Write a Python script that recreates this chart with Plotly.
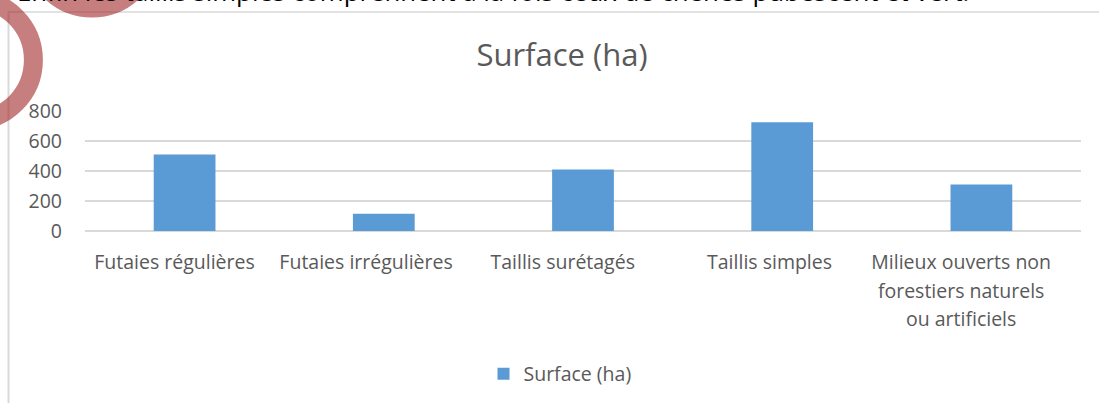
import plotly.graph_objects as go

categories = [
    "Futaies régulières",
    "Futaies irrégulières",
    "Taillis surétagés",
    "Taillis simples",
    "Milieux ouverts non<br>forestiers naturels<br>ou artificiels",
]
surface_ha = [510, 115, 410, 725, 310]
series_name = "Surface (ha)"
y_ticks = [0, 200, 400, 600, 800]

W, H = 1099, 403
ML, MR, MT, MB = 85, 18, 111, 172
PW, PH = W - ML - MR, H - MT - MB

def px(x):
    return (x - ML) / PW

def py(y):
    return (H - MB - y) / PH

TEXT = "#595959"
FONT = "Open Sans"
LABEL_SIZE = 19.5

# labels in the reference sit a little left of their bar centres
label_pad = [4, 7, 8, 5, 8]

def padded(label, n):
    return "<br>".join(line + "&nbsp;" * n for line in label.split("<br>"))

tick_text = ["<span style='font-size:%spx'>%s</span>" % (LABEL_SIZE, padded(c, n))
             for c, n in zip(categories, label_pad)]

fig = go.Figure()
fig.add_trace(go.Bar(
    x=categories, y=surface_ha, name=series_name,
    marker=dict(color="#5b9bd5", line=dict(width=0)),
    showlegend=True,
))

fig.update_layout(
    width=W, height=H,
    margin=dict(l=ML, r=MR, t=MT, b=MB, pad=0, autoexpand=False),
    paper_bgcolor="white", plot_bgcolor="white",
    bargap=0.69,
    font=dict(family=FONT, color=TEXT, size=LABEL_SIZE),
    title=dict(text="Surface (ha)", x=562 / W, xref="container", xanchor="center",
               y=1 - 55 / H, yref="container", yanchor="middle",
               font=dict(family=FONT, size=31, color=TEXT)),
    showlegend=True,
    legend=dict(orientation="h", x=px(560), xanchor="center", y=py(374), yanchor="middle",
                font=dict(family=FONT, size=LABEL_SIZE, color=TEXT),
                bgcolor="rgba(0,0,0,0)", itemwidth=30),
    xaxis=dict(
        tickmode="array", tickvals=categories, ticktext=tick_text,
        tickfont=dict(family=FONT, size=22, color=TEXT), tickangle=0, automargin=False,
        showgrid=False, showline=False, zeroline=False, ticks="",
        ticklabelstandoff=15,
    ),
    yaxis=dict(
        range=[0, 800], tickvals=y_ticks, ticktext=[str(v) for v in y_ticks],
        tickfont=dict(family=FONT, size=LABEL_SIZE, color=TEXT), automargin=False,
        showgrid=True, gridcolor="#d9d9d9", gridwidth=1.7,
        zeroline=True, zerolinecolor="#d9d9d9", zerolinewidth=1.7,
        showline=False, ticks="", ticklabelstandoff=22,
    ),
)

# chart frame (top and left border of the embedded chart)
fig.add_shape(type="line", xref="paper", yref="paper", x0=px(8), x1=px(W + 5), y0=py(12), y1=py(12),
              line=dict(color="#d9d9d9", width=1.5), layer="below")
fig.add_shape(type="line", xref="paper", yref="paper", x0=px(8.5), x1=px(8.5), y0=py(12), y1=py(H + 5),
              line=dict(color="#d9d9d9", width=2), layer="below")

# paragraph text cut off above the chart
fig.add_annotation(
    text="Enfin les taillis simples comprennent à la fois ceux de chênes pubescent et vert.",
    xref="paper", yref="paper", x=px(15), y=py(11), xanchor="left", yanchor="bottom",
    showarrow=False, font=dict(family=FONT, size=25.8, color="black"),
)

# red hand-drawn ring annotation
ring = "rgba(160,40,40,0.6)"
for cx, cy, r in [(-27.6, 60, 61), (92, -52, 60)]:
    fig.add_shape(type="circle", xref="paper", yref="paper",
                  x0=px(cx - r), x1=px(cx + r), y0=py(cy + r), y1=py(cy - r),
                  line=dict(color=ring, width=19), layer="above")

fig.write_html("out.html", config={"displayModeBar": False},
               post_script="document.body.style.margin='0px';document.body.style.overflow='hidden';")
